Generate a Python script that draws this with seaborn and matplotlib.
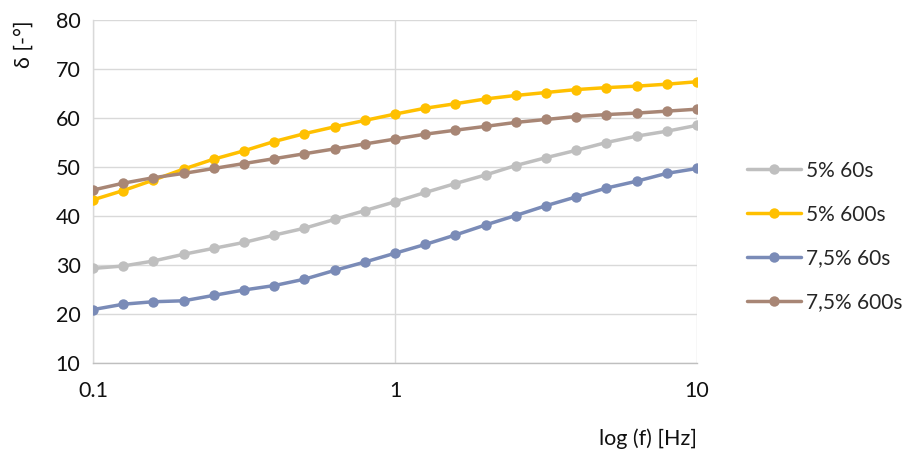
import numpy as np
import pandas as pd
import matplotlib
matplotlib.use("Agg")
import matplotlib.pyplot as plt
import seaborn as sns

freq = [0.1, 0.126, 0.158, 0.2, 0.251, 0.316, 0.398, 0.501, 0.631, 0.794,
        1.0, 1.26, 1.58, 2.0, 2.51, 3.16, 3.98, 5.01, 6.31, 7.94, 10.0]

s_5_60 = [29.3, 29.8, 30.8, 32.2, 33.4, 34.6, 36.1, 37.5, 39.3, 41.1,
          42.9, 44.8, 46.6, 48.4, 50.3, 51.9, 53.4, 55.0, 56.3, 57.3, 58.5]
s_5_600 = [43.3, 45.2, 47.3, 49.6, 51.6, 53.3, 55.2, 56.8, 58.2, 59.5,
           60.8, 62.0, 62.9, 63.9, 64.6, 65.2, 65.8, 66.2, 66.5, 66.9, 67.4]
s_75_60 = [20.9, 22.0, 22.5, 22.7, 23.8, 24.9, 25.8, 27.1, 28.9, 30.6,
           32.4, 34.2, 36.1, 38.2, 40.1, 42.1, 43.9, 45.7, 47.1, 48.7, 49.7]
s_75_600 = [45.3, 46.7, 47.8, 48.7, 49.7, 50.7, 51.7, 52.7, 53.7, 54.7,
            55.7, 56.7, 57.5, 58.3, 59.1, 59.7, 60.3, 60.7, 61.0, 61.4, 61.8]

series_names = ["5% 60s", "5% 600s", "7,5% 60s", "7,5% 600s"]
series_values = [s_5_60, s_5_600, s_75_60, s_75_600]
colors = ["#BFBFBF", "#FFC000", "#7A8BB7", "#A88675"]

y_ticks = [10, 20, 30, 40, 50, 60, 70, 80]
x_ticks = [0.1, 1, 10]
x_tick_labels = ["0.1", "1", "10"]

df = pd.concat([
    pd.DataFrame({"f": freq, "delta": vals, "series": name})
    for name, vals in zip(series_names, series_values)
], ignore_index=True)

sns.set_theme(style="white")
plt.rcParams["font.family"] = ["Lato", "DejaVu Sans"]

fs = 15.5
fig = plt.figure(figsize=(9.10, 4.61), dpi=100)
ax = fig.add_axes([93/910, 1 - 363/461, (697 - 93)/910, (363 - 20)/461])

sns.lineplot(data=df, x="f", y="delta", hue="series", hue_order=series_names,
             palette=colors, marker="o", markersize=7.5, markeredgewidth=0,
             linewidth=2.5, ax=ax, legend=True, zorder=3)

ax.set_xscale("log")
ax.set_xlim(0.1, 10)
ax.set_ylim(10, 80)
ax.set_yticks(y_ticks)
ax.set_xticks(x_ticks)
ax.set_xticklabels(x_tick_labels)
ax.xaxis.set_minor_locator(matplotlib.ticker.NullLocator())
ax.grid(True, which="major", color="#D9D9D9", linewidth=1.0, zorder=0)
ax.set_axisbelow(True)
for side in ["top", "right"]:
    ax.spines[side].set_visible(False)
ax.spines["left"].set_color("#D9D9D9")
ax.spines["bottom"].set_color("#BFBFBF")
ax.spines["left"].set_linewidth(1.0)
ax.spines["bottom"].set_linewidth(1.0)
ax.tick_params(axis="y", length=0, pad=9, labelsize=fs, labelcolor="#111111")
ax.tick_params(axis="x", length=0, pad=13, labelsize=fs, labelcolor="#111111")

ax.set_ylabel("δ [-°]", loc="top", fontsize=fs, labelpad=16, color="#111111")
ax.set_xlabel("log (f) [Hz]", loc="right", fontsize=fs, labelpad=20, color="#111111")

handles, labels = ax.get_legend_handles_labels()
ax.get_legend().remove()
leg = fig.legend(handles, labels, loc="center left", bbox_to_anchor=(0.800, 0.487),
                 frameon=False, fontsize=15, handlelength=2.6, handletextpad=0.25,
                 labelspacing=1.15)

fig.savefig("out.png", dpi=100)
